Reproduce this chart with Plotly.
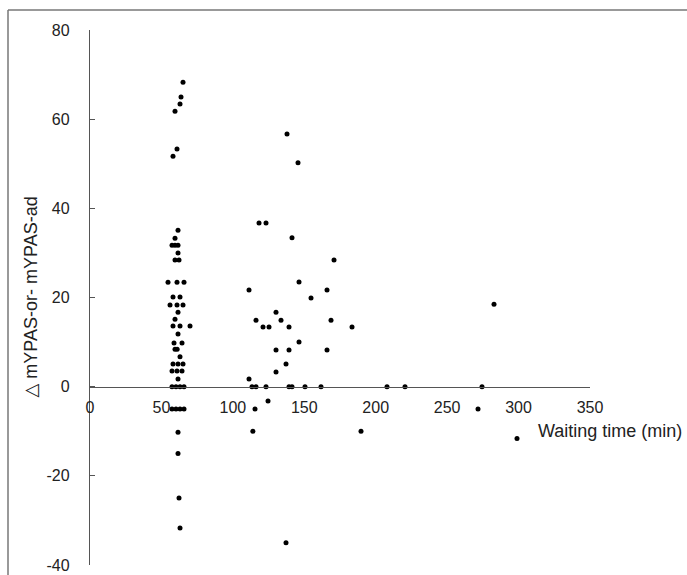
import plotly.graph_objects as go

# Waiting time (min)
waiting_time = [
    65.1, 63.7, 63.0, 59.5, 60.9, 58.1,
    61.6, 59.5, 57.4, 59.5, 61.6, 61.6, 59.5, 62.3,
    54.6, 60.9, 65.8, 58.1, 63.0, 56.0, 60.9, 65.1,
    61.6, 59.5, 58.1, 63.0, 70.0, 61.6, 58.8, 64.4,
    59.5, 61.0, 63.0, 58.1, 61.6, 65.1, 57.4, 60.9, 64.4, 61.6,
    57.4, 60.2, 63.0, 65.8, 57.4, 60.2, 63.0, 65.8,
    61.6, 61.6, 62.3, 63.0,
    111.3, 111.3, 116.2, 121.1, 125.3, 130.2, 133.7, 139.3, 146.3, 154.7,
    165.9, 168.7, 183.4, 130.2, 139.3, 146.3, 165.9, 137.2, 130.2,
    113.4, 116.2, 123.2, 139.3, 141.4, 150.5, 161.7,
    137.9, 145.6, 118.3, 123.2, 141.4, 170.8,
    115.5, 114.0, 124.6, 137.2, 189.7,
    207.9, 220.5, 274.4, 271.6, 298.9, 282.8,
]
# delta mYPAS
delta_mypas = [
    68.3, 65.0, 63.4, 61.8, 53.3, 51.7,
    35.1, 33.3, 31.7, 31.7, 31.7, 30.0, 28.4, 28.4,
    23.4, 23.4, 23.4, 20.1, 20.1, 18.3, 18.3, 18.3,
    16.7, 15.1, 13.6, 13.6, 13.6, 11.8, 9.8, 9.8,
    8.4, 8.4, 6.7, 5.1, 5.1, 5.1, 3.5, 3.5, 3.5, 1.7,
    0, 0, 0, 0, -5, -5, -5, -5,
    -10.2, -15, -25, -31.7,
    21.7, 1.7, 14.9, 13.4, 13.4, 16.7, 14.9, 13.4, 23.5, 19.9,
    21.7, 14.9, 13.4, 8.2, 8.2, 10.0, 8.2, 5.1, 3.3,
    0, 0, 0, 0, 0, 0, 0,
    56.7, 50.2, 36.7, 36.7, 33.4, 28.4,
    -5, -10, -3.2, -35, -10,
    0, 0, 0, -5, -11.6, 18.5,
]

x_ticks = [0, 50, 100, 150, 200, 250, 300, 350]
y_ticks = [-40, -20, 0, 20, 40, 60, 80]
y_tick_text = ["-40", "-20", "0", "20", "40", "60", "80"]

FONT = "Liberation Sans, DejaVu Sans, Arial, sans-serif"
AXIS_COLOR = "#555555"
TEXT_COLOR = "#222222"

fig = go.Figure(
    go.Scatter(
        x=waiting_time, y=delta_mypas, mode="markers",
        marker=dict(color="black", size=5, line=dict(width=0)),
        showlegend=False, hoverinfo="x+y",
    )
)

fig.update_layout(
    width=687, height=575,
    margin=dict(l=90, r=97, t=30, b=10, autoexpand=False),
    paper_bgcolor="white", plot_bgcolor="white",
    font=dict(family=FONT, size=16, color=TEXT_COLOR),
    xaxis=dict(
        range=[0, 350], tickvals=x_ticks, showgrid=False, zeroline=False,
        showline=True, linecolor=AXIS_COLOR, linewidth=1.3,
        anchor="free", position=1/3, ticks="", ticklabelstandoff=6,
        automargin=False,
        tickfont=dict(size=16, family=FONT, color=TEXT_COLOR),
    ),
    yaxis=dict(
        range=[-40, 80], tickvals=y_ticks, ticktext=y_tick_text,
        showgrid=False, zeroline=False,
        showline=True, linecolor=AXIS_COLOR, linewidth=1.3,
        ticks="inside", ticklen=5, tickcolor=AXIS_COLOR, tickwidth=1.3,
        ticklabelstandoff=16, automargin=False,
        tickfont=dict(size=16, family=FONT, color=TEXT_COLOR),
    ),
    annotations=[
        dict(text="Waiting time (min)", xref="paper", yref="paper",
             x=0.892, y=0.2505, xanchor="left", yanchor="middle",
             showarrow=False, font=dict(size=18, family=FONT, color=TEXT_COLOR)),
        dict(text="△ mYPAS-or- mYPAS-ad", xref="paper", yref="paper",
             x=-0.12, y=0.5, xanchor="center", yanchor="middle",
             textangle=-90, showarrow=False,
             font=dict(size=18, family=FONT, color=TEXT_COLOR)),
    ],
    shapes=[
        dict(type="line", xref="paper", yref="paper", x0=-0.164, x1=1.2,
             y0=1.0374, y1=1.0374, line=dict(color="#777777", width=1.5)),
        dict(type="line", xref="paper", yref="paper", x0=-0.164, x1=-0.164,
             y0=1.0374, y1=-0.05, line=dict(color="#777777", width=1.5)),
    ],
)

fig.write_html(
    "out.html",
    config={"displayModeBar": False},
    post_script="document.body.style.margin='0';document.body.style.overflow='hidden';",
)
